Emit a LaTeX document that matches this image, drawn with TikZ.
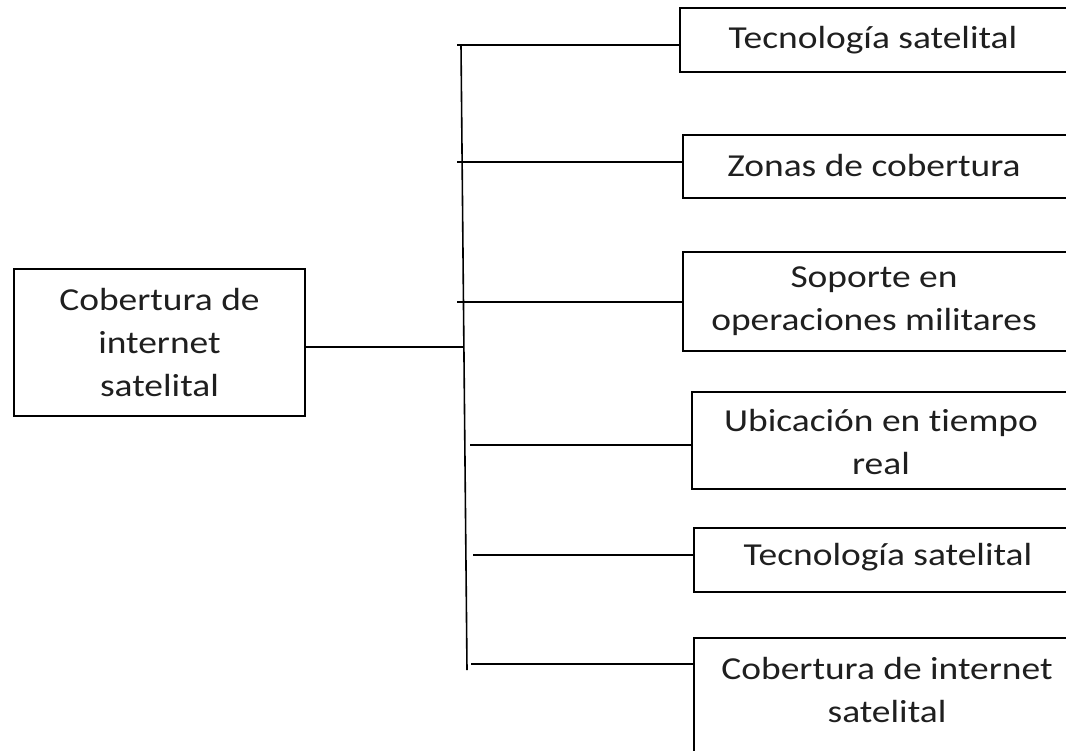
\documentclass[tikz,border=0pt]{standalone}
\usepackage{fontspec}
\setmainfont[FakeStretch=1.17,Ligatures=NoCommon]{Carlito}
\begin{document}
\begin{tikzpicture}[x=1pt,y=-1pt,
  boxstyle/.style={draw, line width=1.6pt, rectangle, inner sep=0pt},
  txt/.style={align=center, inner sep=0pt, font=\fontsize{32}{43}\selectfont, text=black!88},
  conn/.style={line width=1.6pt}]
\useasboundingbox (0,0) rectangle (1066,750);
\clip (0,0) rectangle (1066,750);
% root
\node[boxstyle, minimum width=291pt, minimum height=147pt] (root) at (159.5,342.5) {};
\node[txt] (troot) at (159.5,343) {Cobertura de\\internet\\satelital};
% right boxes
\node[boxstyle, minimum width=400pt, minimum height=64pt] (b1) at (880,40) {};
\node[txt] (t1) at (873,40) {Tecnología satelital};
\node[boxstyle, minimum width=397pt, minimum height=63pt] (b2) at (881.5,166.5) {};
\node[txt] (t2) at (874,166) {Zonas de cobertura};
\node[boxstyle, minimum width=397pt, minimum height=99pt] (b3) at (881.5,301.5) {};
\node[txt] (t3) at (874,301) {Soporte en\\operaciones militares};
\node[boxstyle, minimum width=388pt, minimum height=97pt] (b4) at (886,440.5) {};
\node[txt] (t4) at (881,442) {Ubicación en tiempo\\real};
\node[boxstyle, minimum width=386pt, minimum height=64pt] (b5) at (887,560) {};
\node[txt] (t5) at (888,557) {Tecnología satelital};
\node[boxstyle, minimum width=386pt, minimum height=132pt] (b6) at (887,704) {};
\node[txt] (t6) at (887,690) {Cobertura de internet\\satelital};
% trunk
\coordinate (ttop) at (461,45);
\coordinate (tbot) at (467,670);
\draw[conn] (ttop) -- (tbot);
\coordinate (m) at (463,347);
\draw[conn] (root.east |- m) -- (m);
% branches
\coordinate (j1) at (457,45);
\coordinate (j2) at (457,162);
\coordinate (j3) at (457,302);
\coordinate (j4) at (470,445);
\coordinate (j5) at (473,555);
\coordinate (j6) at (471,664);
\draw[conn] (j1) -- (j1 -| b1.west);
\draw[conn] (j2) -- (j2 -| b2.west);
\draw[conn] (j3) -- (j3 -| b3.west);
\draw[conn] (j4) -- (j4 -| b4.west);
\draw[conn] (j5) -- (j5 -| b5.west);
\draw[conn] (j6) -- (j6 -| b6.west);
\end{tikzpicture}
\end{document}
